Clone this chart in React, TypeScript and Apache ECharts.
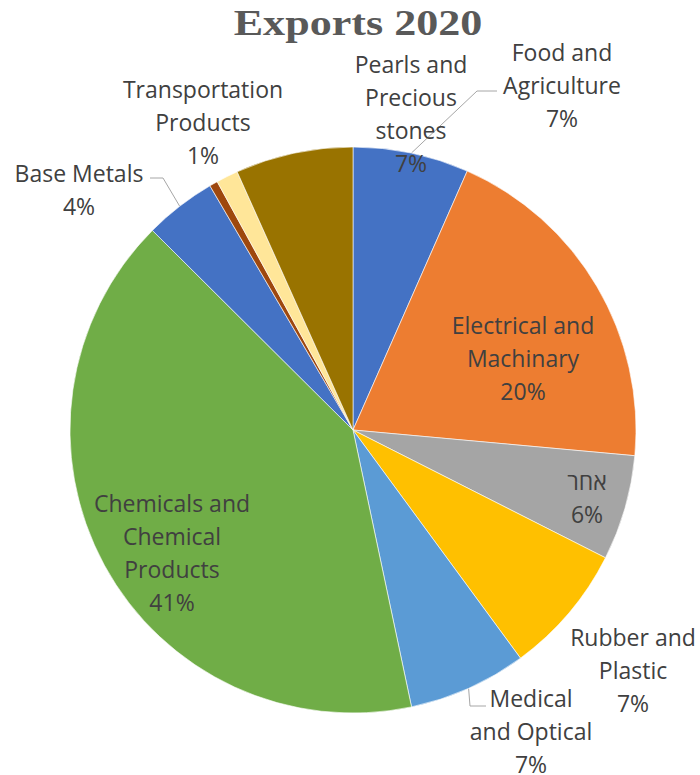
import React, { useEffect, useRef } from 'react';
import * as echarts from 'echarts';

// Slices, clockwise from 12 o'clock
const CATEGORIES = [
  'Food and\nAgriculture',
  'Electrical and\nMachinary',
  'אחר',
  'Rubber and\nPlastic',
  'Medical\nand Optical',
  'Chemicals and\nChemical\nProducts',
  'Base Metals',
  '',
  'Transportation\nProducts',
  'Pearls and\nPrecious\nstones',
];
const VALUES = [6.6, 19.8, 6.0, 7.45, 6.75, 40.7, 4.1, 0.47, 1.25, 6.7];
const COLORS = [
  '#4472C4', '#ED7D31', '#A5A5A5', '#FFC000', '#5B9BD5',
  '#70AD47', '#4472C4', '#9E480E', '#FFE699', '#997300',
];
const TITLE = 'Exports 2020';

// label block centres (layout only)
const LABEL_CENTERS: [number, number][] = [
  [562, 85], [523, 358], [587, 497], [633, 670], [531, 731],
  [172, 552], [79, 189], [0, 0], [203, 122], [411, 113],
];
// leader line: [bendDx, endDx, dy] relative to label centre
const LEADERS: Record<number, [number, number, number]> = {
  0: [-85, -65, 6],
  4: [-61, -45, -25],
  6: [84, 71, -11],
};
const HIDDEN_LABEL = 7;

export default function App() {
  const ref = useRef<HTMLDivElement>(null);
  useEffect(() => {
    if (!ref.current) return;
    const chart = echarts.init(ref.current, null, { renderer: 'svg' });
    const font = '"Open Sans", "DejaVu Sans", sans-serif';
    chart.setOption({
      animation: false,
      backgroundColor: '#ffffff',
      graphic: [
        {
          type: 'text',
          x: 358,
          y: 24,
          scaleX: 1.26,
          style: {
            text: TITLE,
            fontFamily: '"Liberation Serif", "Times New Roman", serif',
            fontWeight: 'bold',
            fontSize: 35,
            fill: '#595959',
            align: 'center',
            verticalAlign: 'middle',
          },
        },
      ],
      series: [
        {
          type: 'pie',
          center: [353, 430],
          radius: 283,
          startAngle: 90,
          clockwise: true,
          silent: true,
          percentPrecision: 0,
          avoidLabelOverlap: false,
          itemStyle: { borderColor: '#ffffff', borderWidth: 0.6 },
          label: {
            show: true,
            position: 'outside',
            formatter: '{b}\n{d}%',
            fontFamily: font,
            fontSize: 23,
            lineHeight: 33,
            color: '#404040',
            align: 'center',
          },
          labelLine: {
            show: false,
            length: 10,
            length2: 10,
            lineStyle: { color: '#A6A6A6', width: 1 },
          },
          labelLayout: (p: any) => {
            const i = p.dataIndex;
            const [cx, cy] = LABEL_CENTERS[i];
            const out: any = { x: cx, y: cy, align: 'center', verticalAlign: 'middle' };
            const lead = LEADERS[i];
            if (lead && p.labelLinePoints && p.labelLinePoints[0]) {
              const a = p.labelLinePoints[0];
              out.labelLinePoints = [
                [a[0], a[1]],
                [cx + lead[0], cy + lead[2]],
                [cx + lead[1], cy + lead[2]],
              ];
            }
            return out;
          },
          data: VALUES.map((v, i) => ({
            value: v,
            name: CATEGORIES[i],
            itemStyle: { color: COLORS[i] },
            label: { show: i !== HIDDEN_LABEL },
            labelLine: { show: LEADERS[i] !== undefined },
          })),
        },
      ],
    });
    return () => chart.dispose();
  }, []);
  return (
    <div
      ref={ref}
      style={{ position: 'fixed', left: 0, top: 0, width: 700, height: 775, background: '#fff' }}
    />
  );
}
